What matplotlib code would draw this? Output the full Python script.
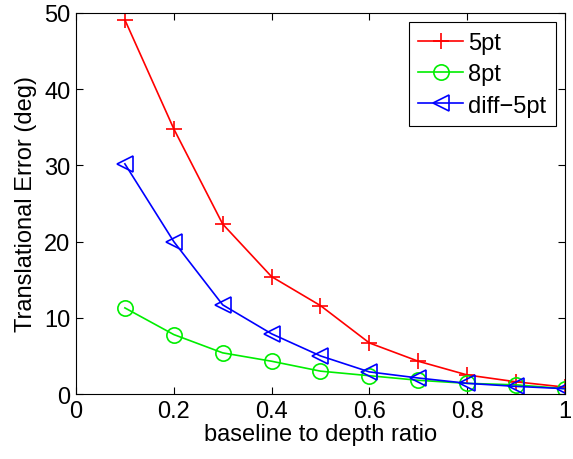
import matplotlib
matplotlib.use("Agg")
import matplotlib.pyplot as plt

plt.rcParams['font.family'] = ['Liberation Sans', 'DejaVu Sans']

ratio = [0.1, 0.2, 0.3, 0.4, 0.5, 0.6, 0.7, 0.8, 0.9, 1.0]
err_5pt = [49.1, 34.8, 22.3, 15.4, 11.6, 6.7, 4.3, 2.5, 1.6, 0.9]
err_8pt = [11.3, 7.8, 5.4, 4.3, 3.0, 2.4, 1.8, 1.4, 1.2, 0.7]
err_diff = [30.2, 20.0, 11.7, 7.9, 5.0, 2.9, 2.1, 1.4, 1.0, 0.7]

fig = plt.figure(figsize=(5.73, 4.6), dpi=100)
ax = fig.add_axes([0.1326, 0.1413, 0.8534, 0.8283])

ax.plot(ratio, err_5pt, color='#ff0000', marker='+', markersize=12,
        markeredgewidth=1.2, linewidth=1.2, label='5pt')
ax.plot(ratio, err_8pt, color='#00ee00', marker='o', markersize=11,
        markerfacecolor='none', markeredgewidth=1.2, linewidth=1.2, label='8pt')
ax.plot(ratio, err_diff, color='#0000ff', marker='<', markersize=11,
        markerfacecolor='none', markeredgewidth=1.2, linewidth=1.2,
        label='diff\u22125pt')

ax.set_xlim(0, 1)
ax.set_ylim(0, 50)
ax.set_xticks([0, 0.2, 0.4, 0.6, 0.8, 1])
ax.set_xticklabels(['0', '0.2', '0.4', '0.6', '0.8', '1'])
ax.set_yticks([0, 10, 20, 30, 40, 50])
ax.tick_params(direction='in', top=True, right=True, labelsize=17, length=5,
               pad=4)
ax.set_xlabel('baseline to depth ratio', fontsize=17, labelpad=1)
ax.set_ylabel('Translational Error (deg)', fontsize=17, labelpad=5)

leg = ax.legend(loc='upper right', fontsize=17, fancybox=False, framealpha=1,
                edgecolor='black', handlelength=1.9, borderaxespad=0.4,
                borderpad=0.4, handletextpad=0.2, labelspacing=0.4)
leg.get_frame().set_linewidth(0.8)

fig.savefig('out.png', dpi=100)
